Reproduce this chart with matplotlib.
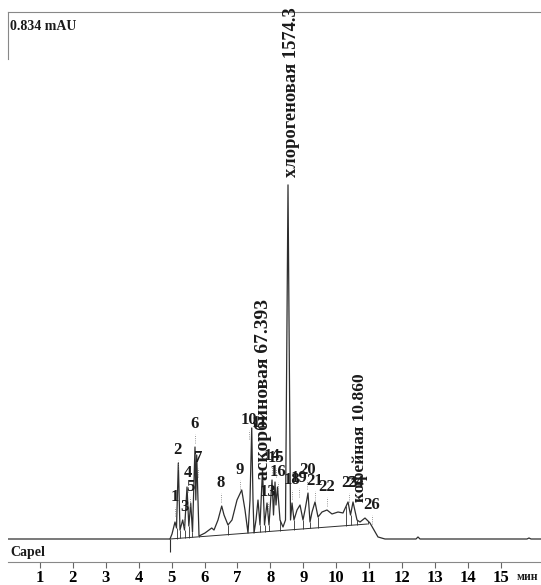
import numpy as np
import matplotlib
matplotlib.use('Agg')
import matplotlib.pyplot as plt

# chromatogram trace (minutes, mAU)
time_min = [0.00, 4.951, 5.012, 5.103, 5.149, 5.204, 5.255, 5.337, 5.392, 5.468,
            5.523, 5.581, 5.635, 5.711, 5.736, 5.763, 5.833, 6.015, 6.219, 6.289,
            6.410, 6.523, 6.593, 6.714, 6.836, 6.988, 7.131, 7.231, 7.322, 7.383,
            7.435, 7.474, 7.505, 7.565, 7.626, 7.687, 7.763, 7.824, 7.900, 7.960,
            8.052, 8.097, 8.143, 8.173, 8.219, 8.295, 8.386, 8.462, 8.538, 8.614,
            8.660, 8.720, 8.812, 8.903, 8.994, 9.055, 9.146, 9.207, 9.268, 9.359,
            9.450, 9.571, 9.723, 9.875, 10.058, 10.210, 10.362, 10.438, 10.514, 10.635,
            10.726, 10.878, 10.970, 11.030, 11.152, 11.273, 11.486, 12.428, 12.489, 12.550,
            15.802, 15.863, 15.924, 16.228]
signal_mau = [0.0, 0.0, 0.0079, 0.0269, 0.0174, 0.1203, 0.0142, 0.0301, 0.0142, 0.0823,
              0.0206, 0.0570, 0.0111, 0.1456, 0.0617, 0.1330, 0.0047, 0.0095, 0.0174, 0.0142,
              0.0301, 0.0522, 0.0380, 0.0222, 0.0301, 0.0617, 0.0776, 0.0459, 0.0095, 0.0617,
              0.1757, 0.0617, 0.0095, 0.0301, 0.0617, 0.0222, 0.1092, 0.0222, 0.0570, 0.0222,
              0.0934, 0.0380, 0.0902, 0.0538, 0.0823, 0.0301, 0.0190, 0.0301, 0.5604, 0.0301,
              0.0570, 0.0301, 0.0459, 0.0538, 0.0301, 0.0459, 0.0728, 0.0269, 0.0427, 0.0586,
              0.0348, 0.0427, 0.0459, 0.0396, 0.0427, 0.0412, 0.0586, 0.0380, 0.0586, 0.0301,
              0.0269, 0.0332, 0.0285, 0.0253, 0.0142, 0.0032, 0.0, 0.0, 0.0032, 0.0,
              0.0, 0.0016, 0.0, 0.0]

# integration baseline (start, end)
base_time = [4.951, 10.95]
base_mau = [0.0, 0.0237]

# valleys where the integrator dropped a line to the baseline
drop_times = [5.149, 5.255, 5.392, 5.523, 5.635, 5.833, 6.714, 7.322, 7.505, 7.687,
              7.824, 7.960, 8.295, 8.720, 8.994, 9.207, 9.450, 10.300, 10.438, 10.635, 10.970]

# numbered peaks
peak_names = ['1', '2', '3', '4', '5', '6', '7', '8', '9', '10', '11', '13', '14', '15',
              '16', '18', '19', '20', '21', '22', '23', '24', '26']
peak_times = [5.10, 5.19, 5.38, 5.50, 5.56, 5.71, 5.80, 6.50, 7.08, 7.36, 7.66, 7.93, 8.06,
              8.17, 8.24, 8.66, 8.88, 9.12, 9.36, 9.72, 10.40, 10.60, 11.08]
label_mau = [0.0665, 0.141, 0.0507, 0.1045, 0.0823, 0.182, 0.128, 0.0887, 0.109, 0.188,
             0.184, 0.0744, 0.131, 0.128, 0.106, 0.0934, 0.0966, 0.109, 0.0918, 0.0823,
             0.0887, 0.0887, 0.0538]

# named compounds (vertical labels)
acid_names = ['аскорбиновая 67.393', 'хлорогеновая 1574.3', 'кофейная 10.860']
acid_times = [7.78, 8.63, 10.73]
acid_label_mau = [0.0934, 0.573, 0.0586]
acid_sizes = [14, 13.3, 12.5]

ticks = list(range(1, 16))

serif = ['Liberation Serif', 'DejaVu Serif']
ink = '#2e2e2e'

fig = plt.figure(figsize=(5.41, 5.85), dpi=100)
ax = fig.add_axes([8 / 541, 23 / 585, 533 / 541, 550 / 585])
ax.set_xlim(0.027, 16.228)
ax.set_ylim(-0.0364, 0.834)

ax.plot(time_min, signal_mau, color=ink, lw=0.9)
ax.plot(base_time, base_mau, color=ink, lw=0.7)

# drop lines from baseline to trace
base_at = np.interp(drop_times, base_time, base_mau)
sig_at = np.interp(drop_times, time_min, signal_mau)
ax.vlines(drop_times, base_at, sig_at, color=ink, lw=0.6)
ax.vlines(4.951, -0.020, 0.0, color=ink, lw=0.8)

# peak numbers with small dotted leaders
for name, t, y in zip(peak_names, peak_times, label_mau):
    ax.text(t, y, name, ha='center', va='center', fontsize=12, fontweight='bold',
            family=serif, color='#1a1a1a')
    ax.vlines(t, y - 0.030, y - 0.016, color='#777777', lw=0.6, linestyles=':')

for name, t, y, fs in zip(acid_names, acid_times, acid_label_mau, acid_sizes):
    ax.text(t, y, name, rotation=90, ha='center', va='bottom', fontsize=fs,
            fontweight='bold', family=serif, color='#1a1a1a')

ax.text(0.09, 0.8105, '0.834 mAU', ha='left', va='center', fontsize=10,
        fontweight='bold', family=serif, color='#1a1a1a')
ax.text(0.09, -0.0206, 'Capel', ha='left', va='center', fontsize=10,
        fontweight='bold', family=serif, color='#1a1a1a')
ax.text(15.82, -0.060, 'мин', ha='center', va='center', fontsize=8.5,
        fontweight='bold', family=serif, color='#1a1a1a', clip_on=False)

ax.set_xticks(ticks)
ax.set_xticklabels([str(t) for t in ticks], fontsize=12, fontweight='bold', family=serif)
ax.tick_params(axis='x', direction='out', length=4, width=0.8, color='#666666', pad=2)
ax.set_yticks([])
for side in ['top', 'bottom', 'left']:
    ax.spines[side].set_color('#888888')
    ax.spines[side].set_linewidth(0.8)
ax.spines['right'].set_visible(False)
ax.spines['left'].set_bounds(0.76, 0.834)

fig.savefig('out.png', dpi=100)
